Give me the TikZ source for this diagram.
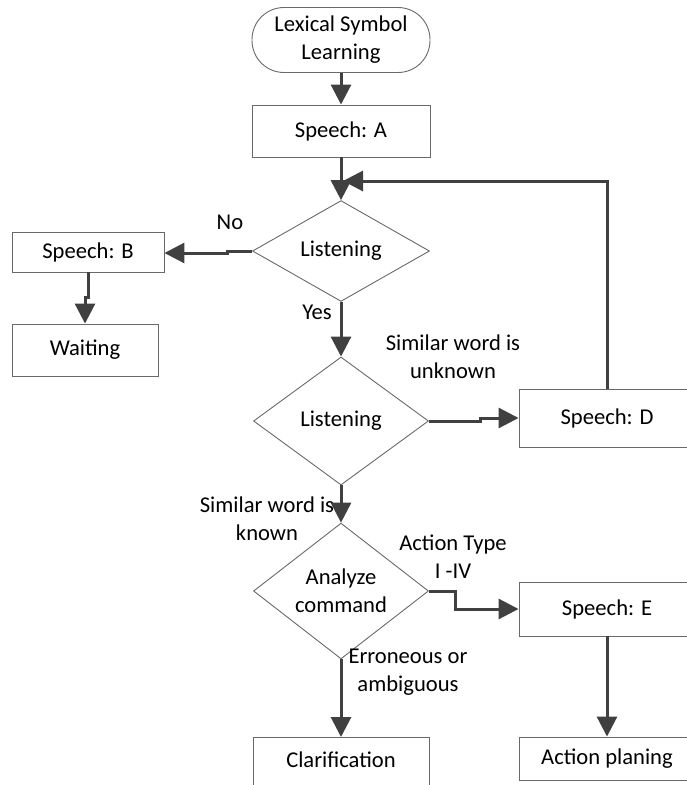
\documentclass[tikz,border=0pt]{standalone}
\usepackage{fontspec}
\setmainfont{Carlito}
\usetikzlibrary{shapes.geometric,arrows.meta}
\definecolor{edgegray}{RGB}{64,64,64}
\definecolor{framegray}{RGB}{105,105,105}
\begin{document}
\begin{tikzpicture}[x=1pt,y=-1pt,
  every node/.style={font=\fontsize{22.6}{28}\selectfont, align=center, inner sep=0pt},
  box/.style={draw=framegray, line width=0.9pt, rectangle, minimum width=176pt, minimum height=52pt},
  decision/.style={draw=framegray, line width=0.9pt, diamond, minimum width=176pt},
  flow/.style={draw=edgegray, line width=3pt, -{Triangle[length=20pt,width=20pt]}}]
\useasboundingbox (0,0) rectangle (686,785);

% process steps
\node[draw=framegray, line width=0.9pt, rounded corners=32pt, minimum width=178pt, minimum height=65pt] (start) at (341,40) {Lexical Symbol\\Learning};
\node[box, minimum width=178pt] (sa) at (341,131) {Speech: A};
\node[decision, minimum width=177pt, minimum height=90pt] (d1) at (341,251) {Listening};
\node[box, minimum width=152pt, minimum height=40pt] (sb) at (88,252) {Speech: B};
\node[box, minimum width=146pt, minimum height=52pt] (wait) at (85,350) {Waiting};
\node[decision, minimum width=175pt, minimum height=128pt] (d2) at (341,421) {Listening};
\node[box, minimum height=58pt] (sd) at (607,418) {Speech: D};
\node[decision, minimum width=175pt, minimum height=89pt] (d3) at (341,591) {Analyze\\command};
\node[box, minimum height=54pt] (se) at (607,609) {Speech: E};
\node[box, anchor=north, minimum height=10pt, text height=30pt, text depth=40pt] (clar) at (341,737) {Clarification};
\node[box, minimum height=43pt] (plan) at (607,758.5) {Action planing};

% bend points
\coordinate (j1) at (227,253);
\coordinate (j3) at (480,418);
\coordinate (j4) at (455,609);
\coordinate (back) at (343,181);

% connectors
\draw[flow] (start) -- (sa);
\draw[flow] (sa) -- (d1);
\draw[flow] (d1.west) -| (j1) -- (j1 -| sb.east);
\draw[flow] (sb.south) -- ++(0,25) -| (wait.north);
\draw[flow] (d1) -- (d2);
\draw[flow] (d2.east) -| (j3) -- (sd.west);
\draw[flow] (sd.north) -- (sd.north |- back) -- (back);
\draw[flow] (d2) -- (d3);
\draw[flow] (d3.east) -| (j4) -- (se.west);
\draw[flow] (d3) -- (clar);
\draw[flow] (se) -- (plan);

% branch labels
\node (no) at (230,222) {No};
\node (yes) at (317,312) {Yes};
\node (unk) at (453,357) {Similar word is\\unknown};
\node (kn) at (267,519) {Similar word is\\known};
\node (at) at (453,557) {Action Type\\I -IV};
\node (err) at (408,672) {Erroneous or\\ambiguous};
\end{tikzpicture}
\end{document}
